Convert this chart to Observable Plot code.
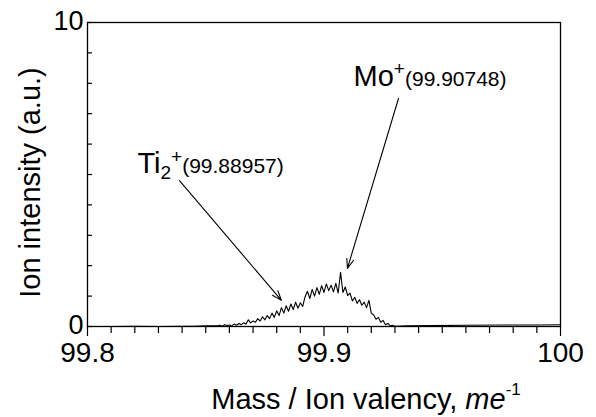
<!DOCTYPE html>
<html><head><meta charset="utf-8">
<script src="https://cdn.jsdelivr.net/npm/d3@7"></script>
<script src="https://cdn.jsdelivr.net/npm/@observablehq/plot@0.6"></script>
<style>body{margin:0;background:#fff} svg{display:block}</style>
</head><body><div id="chart"></div>
<script>
// Spectrum samples (mass / ion valency, intensity in a.u.)
const mass = [
  99.800, 99.810, 99.820, 99.830, 99.840, 99.845, 99.850,
  99.855, 99.856, 99.857, 99.858, 99.859, 99.860, 99.861, 99.862, 99.863, 99.864,
  99.865, 99.866, 99.867, 99.868, 99.869, 99.870, 99.871, 99.872, 99.873, 99.874,
  99.875, 99.876, 99.877, 99.878, 99.879, 99.880, 99.881, 99.882, 99.883, 99.884,
  99.885, 99.886, 99.887, 99.888, 99.889, 99.890, 99.891, 99.892, 99.893, 99.894,
  99.895, 99.896, 99.897, 99.898, 99.899, 99.900, 99.901, 99.902, 99.903, 99.904,
  99.905, 99.906, 99.907, 99.908, 99.909, 99.910, 99.911, 99.912, 99.913, 99.914,
  99.915, 99.916, 99.917, 99.918, 99.919, 99.920, 99.921, 99.922, 99.923, 99.924,
  99.925, 99.926, 99.927, 99.928, 99.929, 99.930,
  99.935, 99.945, 99.960, 99.975, 99.990, 100.000
];
const intensity = [
  0.00, 0.00, 0.01, 0.00, 0.01, 0.01, 0.02,
  0.02, 0.04, 0.01, 0.06, 0.03, 0.05, 0.02, 0.08, 0.04, 0.10,
  0.06, 0.12, 0.08, 0.22, 0.12, 0.18, 0.14, 0.26, 0.18, 0.32,
  0.22, 0.36, 0.26, 0.44, 0.30, 0.52, 0.36, 0.62, 0.44, 0.68,
  0.50, 0.74, 0.56, 0.80, 0.60, 0.78, 0.66, 0.98, 1.16, 0.92,
  1.22, 1.00, 1.28, 1.06, 1.34, 1.12, 1.40, 1.18, 1.36, 1.14,
  1.42, 1.10, 1.78, 1.12, 1.30, 1.02, 1.10, 0.84, 0.96, 0.76,
  0.88, 0.70, 0.80, 0.62, 0.86, 0.44, 0.38, 0.24, 0.30, 0.14,
  0.20, 0.06, 0.10, 0.02, 0.04, 0.01,
  0.02, 0.03, 0.04, 0.05, 0.05, 0.06
];

// Axis ticks and labels
const xMajorTicks = [99.8, 99.9, 100];
const xTickLabels = ["99.8", "99.9", "100"];
const xMinorTicks = [99.81, 99.82, 99.83, 99.84, 99.85, 99.86, 99.87, 99.88, 99.89,
                     99.91, 99.92, 99.93, 99.94, 99.95, 99.96, 99.97, 99.98, 99.99];
const yTicks = [0, 1, 2, 3, 4, 5, 6, 7, 8, 9, 10];
const yLabelTicks = [0, 10];
const yTickLabels = ["0", "10"];

// Annotations
const annotLabels = ["Ti2+(99.88957)", "Mo+(99.90748)"];
const annotX = [99.8211, 99.9125];
const annotY = [5.34, 8.23];
const arrowX1 = [99.8389, 99.9315];
const arrowY1 = [4.80, 7.50];
const arrowX2 = [99.8820, 99.9099];
const arrowY2 = [0.86, 1.91];

const xTitle = "Mass / Ion valency, me-1";
const yTitle = "Ion intensity (a.u.)";

const rows = mass.map((m, i) => ({mass: m, intensity: intensity[i]}));

const svg = Plot.plot({
  width: 596, height: 417,
  marginLeft: 87, marginRight: 36, marginTop: 22, marginBottom: 91,
  style: {fontFamily: "'Liberation Sans', Arial, Helvetica, sans-serif", background: "white", color: "black"},
  x: {domain: [99.8, 100], label: null},
  y: {domain: [0, 10], label: null},
  marks: [
    Plot.axisX(xMinorTicks, {tickSize: 7, tickFormat: () => "", strokeWidth: 1.2}),
    Plot.axisX(xMajorTicks, {tickSize: 10, tickPadding: 6, fontSize: 28, strokeWidth: 1.2,
      tickFormat: d => xTickLabels[xMajorTicks.indexOf(d)]}),
    Plot.axisY(yTicks, {tickSize: 5, dx: 5, tickFormat: () => "", strokeWidth: 1.2}),
    Plot.axisY(yLabelTicks, {tickSize: 0, tickPadding: 4, fontSize: 27, dy: -1,
      tickFormat: d => yTickLabels[yLabelTicks.indexOf(d)]}),
    Plot.frame({stroke: "black", strokeWidth: 1.3}),
    Plot.line(rows, {x: "mass", y: "intensity", stroke: "black", strokeWidth: 1.1}),
    Plot.arrow(annotLabels, {
      x1: (d, i) => arrowX1[i], y1: (d, i) => arrowY1[i],
      x2: (d, i) => arrowX2[i], y2: (d, i) => arrowY2[i],
      stroke: "black", strokeWidth: 1.1, headLength: 14, headAngle: 40
    }),
    Plot.text(annotLabels, {x: (d, i) => annotX[i], y: (d, i) => annotY[i], text: d => d,
      textAnchor: "start", fontSize: 29, fill: "black"}),
    Plot.text([yTitle], {frameAnchor: "left", textAnchor: "middle", lineAnchor: "middle",
      rotate: -90, dx: -57, dy: 8, fontSize: 29, fill: "black"}),
    Plot.text([xTitle], {frameAnchor: "bottom", textAnchor: "middle", lineAnchor: "middle",
      dx: 42, dy: 73, fontSize: 29, fill: "black"})
  ]
});

function richText(root, plain, parts) {
  d3.select(root).selectAll("text")
    .filter(function() { return this.textContent === plain; })
    .each(function() {
      const t = d3.select(this);
      t.text(null);
      parts.forEach(p => {
        const s = t.append("tspan").text(p.text);
        if (p.size) s.attr("font-size", p.size);
        if (p.dy) s.attr("dy", p.dy);
        if (p.italic) s.attr("font-style", "italic");
      });
    });
}
richText(svg, "Ti2+(99.88957)", [
  {text: "Ti", size: 29},
  {text: "2", size: 19, dy: 6},
  {text: "+", size: 19, dy: -16},
  {text: "(99.88957)", size: 21, dy: 10}
]);
richText(svg, "Mo+(99.90748)", [
  {text: "Mo", size: 29},
  {text: "+", size: 19, dy: -11},
  {text: "(99.90748)", size: 21, dy: 11}
]);
richText(svg, xTitle, [
  {text: "Mass / Ion valency, "},
  {text: "me", italic: true},
  {text: "-1", size: 17, dy: -14}
]);

document.getElementById("chart").appendChild(svg);
</script>
</body></html>
